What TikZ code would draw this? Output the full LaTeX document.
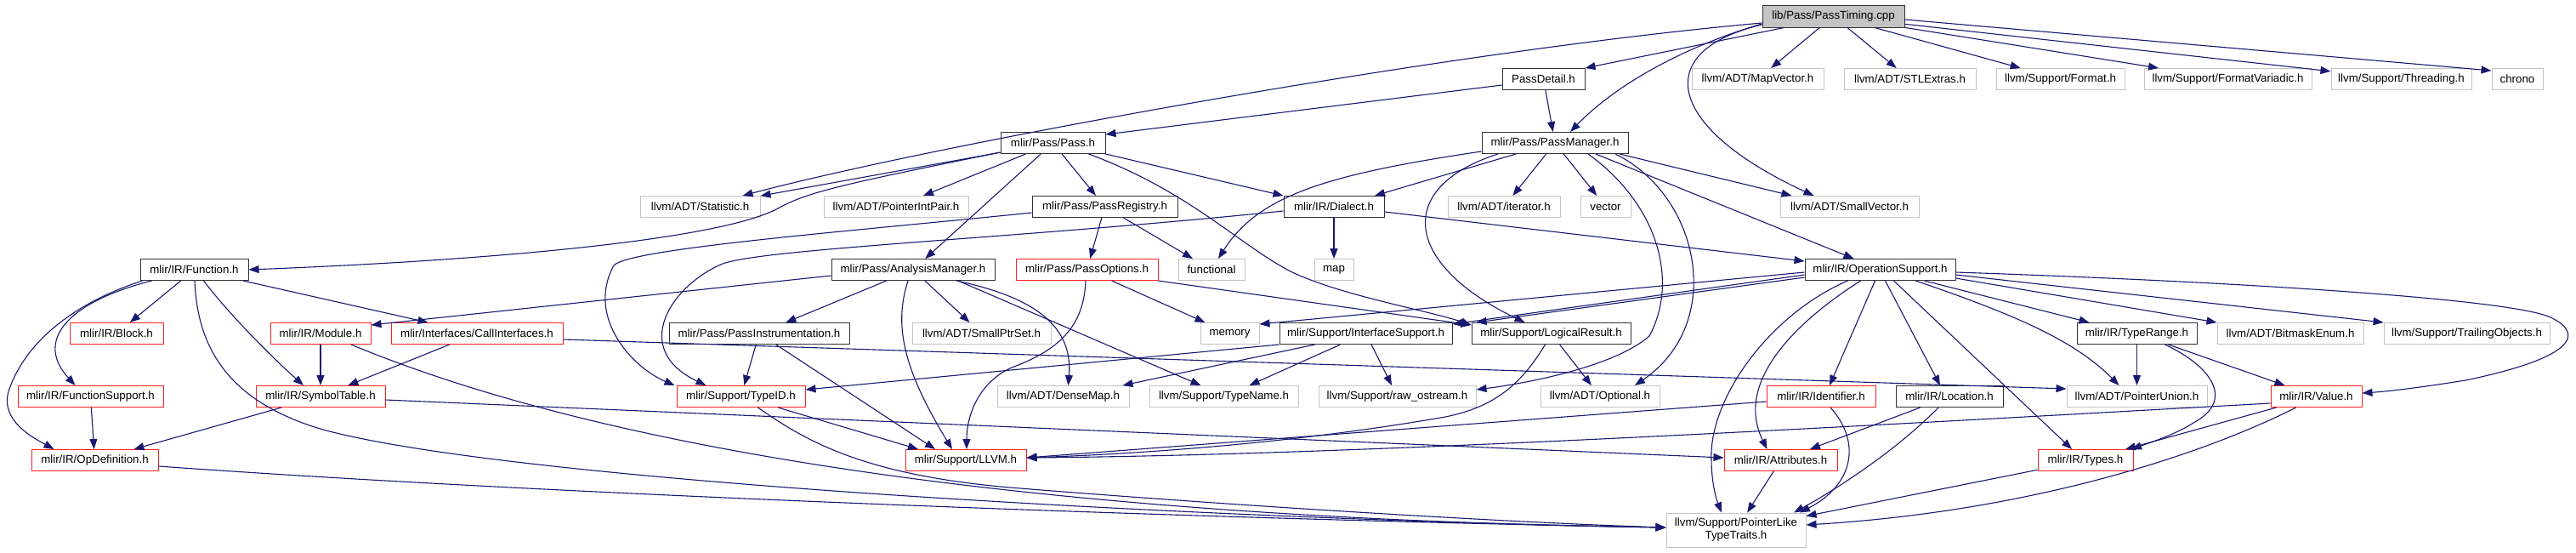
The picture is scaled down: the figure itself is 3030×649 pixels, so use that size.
\documentclass[tikz,border=0pt]{standalone}
\usepackage{fontspec}
\setmainfont{Liberation Sans}
\usetikzlibrary{arrows.meta}
\definecolor{edgecol}{HTML}{191970}
\definecolor{greyb}{HTML}{C4C4C4}
\definecolor{redb}{HTML}{FF2020}
\newcommand{\dxfont}{\fontsize{13.3}{15}\selectfont}
\tikzset{
  nbase/.style={rectangle, inner sep=0pt, minimum height=25, font=\dxfont, line width=1pt, text=black},
  nb/.style={nbase, draw=black!80},
  ng/.style={nbase, draw=greyb},
  nr/.style={nbase, draw=redb},
  e/.style={draw=edgecol, line width=1.1pt, -{Triangle[length=12pt,width=9pt]}}
}
\begin{document}
\begin{tikzpicture}[x=1pt, y=-1pt]
\useasboundingbox[fill=white] (0,0) rectangle (3030,649);
% row 0
\node[nb, fill=greyb, minimum width=167, minimum height=26] (root) at (2156.5,19) {lib/Pass/PassTiming.cpp};
% row 1
\node[nb, minimum width=97] (pd) at (1815.5,93) {PassDetail.h};
\node[ng, minimum width=155] (mv) at (2067.5,93) {llvm/ADT/MapVector.h};
\node[ng, minimum width=155] (stl) at (2246.5,93) {llvm/ADT/STLExtras.h};
\node[ng, minimum width=151] (fmt) at (2423.5,93) {llvm/Support/Format.h};
\node[ng, minimum width=197] (fv) at (2620.5,93) {llvm/Support/FormatVariadic.h};
\node[ng, minimum width=165] (thr) at (2824.5,93) {llvm/Support/Threading.h};
\node[ng, minimum width=60] (chr) at (2961,93) {chrono};
% row 2
\node[nb, minimum width=123] (pass) at (1238.5,168) {mlir/Pass/Pass.h};
\node[nb, minimum width=172] (pm) at (1829,168) {mlir/Pass/PassManager.h};
% row 3
\node[ng, minimum width=141] (stat) at (823.5,243) {llvm/ADT/Statistic.h};
\node[ng, minimum width=170] (pip) at (1054,243) {llvm/ADT/PointerIntPair.h};
\node[nb, minimum width=171] (reg) at (1299.5,243) {mlir/Pass/PassRegistry.h};
\node[nb, minimum width=118] (dia) at (1569,243) {mlir/IR/Dialect.h};
\node[ng, minimum width=132] (iter) at (1769,243) {llvm/ADT/iterator.h};
\node[ng, minimum width=59] (vec) at (1888.5,243) {vector};
\node[ng, minimum width=163] (sv) at (2175.5,243) {llvm/ADT/SmallVector.h};
% row 4
\node[nb, minimum width=127] (fun) at (228.5,317) {mlir/IR/Function.h};
\node[nb, minimum width=192] (am) at (1074,317) {mlir/Pass/AnalysisManager.h};
\node[nr, minimum width=167] (po) at (1278.5,317) {mlir/Pass/PassOptions.h};
\node[ng, minimum width=78] (fnl) at (1425,317) {functional};
\node[ng, minimum width=46] (nmap) at (1569,317) {map};
\node[nb, minimum width=177] (os) at (2211.5,317) {mlir/IR/OperationSupport.h};
% row 5
\node[nr, minimum width=110] (blk) at (137,392) {mlir/IR/Block.h};
\node[nr, minimum width=118] (mod) at (377,392) {mlir/IR/Module.h};
\node[nr, minimum width=202] (ci) at (561,392) {mlir/Interfaces/CallInterfaces.h};
\node[nb, minimum width=212] (pinst) at (893,392) {mlir/Pass/PassInstrumentation.h};
\node[ng, minimum width=163] (spt) at (1154.5,392) {llvm/ADT/SmallPtrSet.h};
\node[ng, minimum width=69] (mem) at (1446.5,392) {memory};
\node[nb, minimum width=203] (is) at (1606.5,392) {mlir/Support/InterfaceSupport.h};
\node[nb, minimum width=187] (lr) at (1824.5,392) {mlir/Support/LogicalResult.h};
\node[nb, minimum width=141] (tr) at (2513.5,392) {mlir/IR/TypeRange.h};
\node[ng, minimum width=172] (bm) at (2694,392) {llvm/ADT/BitmaskEnum.h};
\node[ng, minimum width=195] (tobj) at (2901.5,392) {llvm/Support/TrailingObjects.h};
% row 6
\node[nr, minimum width=171] (fs) at (106.5,466) {mlir/IR/FunctionSupport.h};
\node[nr, minimum width=152] (st) at (377,466) {mlir/IR/SymbolTable.h};
\node[nr, minimum width=151] (tid) at (871.5,466) {mlir/Support/TypeID.h};
\node[ng, minimum width=155] (dm) at (1250.5,466) {llvm/ADT/DenseMap.h};
\node[ng, minimum width=175] (tn) at (1439.5,466) {llvm/Support/TypeName.h};
\node[ng, minimum width=185] (ro) at (1643.5,466) {llvm/Support/raw\_ostream.h};
\node[ng, minimum width=140] (opt) at (1882,466) {llvm/ADT/Optional.h};
\node[nr, minimum width=128] (id) at (2142,466) {mlir/IR/Identifier.h};
\node[nb, minimum width=126] (loc) at (2293,466) {mlir/IR/Location.h};
\node[ng, minimum width=165] (pu) at (2513.5,466) {llvm/ADT/PointerUnion.h};
\node[nr, minimum width=107] (val) at (2724.5,466) {mlir/IR/Value.h};
% row 7
\node[nr, minimum width=149] (opd) at (111.5,541) {mlir/IR/OpDefinition.h};
\node[nr, minimum width=142] (llvm) at (1136,541) {mlir/Support/LLVM.h};
\node[nr, minimum width=133] (attr) at (2094.5,541) {mlir/IR/Attributes.h};
\node[nr, minimum width=112] (types) at (2453,541) {mlir/IR/Types.h};
% row 8
\node[ng, minimum width=164, minimum height=40, align=center] (plt) at (2042,623) {llvm/Support/PointerLike\\TypeTraits.h};

% ---- edges from root
\draw[e] ([yshift=-8]root.west) .. controls (1700,60) and (1100,170) .. ([xshift=50]stat.north);
\draw[e] ([xshift=-58]root.south) -- (pd.north east);
\draw[e] ([yshift=-9]root.west) .. controls (1980,55) and (1900,100) .. ([xshift=18]pm.north);
\draw[e] ([yshift=-10]root.west) .. controls (1940,60) and (1960,150) .. ([xshift=-42]sv.north);
\draw[e] (root) -- (mv);
\draw[e] (root) -- (stl);
\draw[e] (root) -- (fmt);
\draw[e] (root) -- (fv);
\draw[e] (root) -- (thr);
\draw[e] ([yshift=-4]root.east) -- ([yshift=10]chr.west);
% PassDetail
\draw[e] ([yshift=-7]pd.west) -- ([yshift=10]pass.east);
\draw[e] (pd) -- (pm);
% Pass
\draw[e] (pass) -- (stat);
\draw[e] ([yshift=-11]pass.west) .. controls (1000,215) and (950,225) .. (915,245) .. controls (850,280) and (600,305) .. (fun.east);
\draw[e] (pass) -- (pip);
\draw[e] (pass) -- (am);
\draw[e] (pass) -- (reg);
\draw[e] (pass.south east) -- (dia.north west);
\draw[e] ([xshift=42]pass.south) .. controls (1400,225) and (1460,290) .. (1520,320) .. controls (1580,348) and (1680,365) .. ([yshift=-3]lr.north west);
% PassManager
\draw[e] ([yshift=-10]pm.west) .. controls (1560,205) and (1480,230) .. ([xshift=8]fnl.north);
\draw[e] ([xshift=-67]pm.south) .. controls (1640,220) and (1650,310) .. ([xshift=-31]lr.north);
\draw[e] ([xshift=-46]pm.south) -- ([xshift=48]dia.north);
\draw[e] (pm) -- (iter);
\draw[e] (pm) -- (vec);
\draw[e] ([xshift=39]pm.south) .. controls (1950,240) and (1975,330) .. (1940,395) .. controls (1900,430) and (1800,450) .. ([yshift=8]ro.east);
\draw[e] ([xshift=48]pm.south) -- ([xshift=-31]os.north);
\draw[e] ([xshift=71]pm.south) .. controls (2000,230) and (2030,380) .. ([xshift=41]opt.north);
\draw[e] ([xshift=76]pm.south) -- ([xshift=-68]sv.north);
% PassRegistry
\draw[e] (reg) -- (po);
\draw[e] (reg) -- (fnl);
\draw[e] ([yshift=-7]reg.west) .. controls (1000,272) and (740,292) .. (722,312) .. controls (690,370) and (740,430) .. ([xshift=-78]tid.north);
% Dialect
\draw[e] (dia) -- (nmap);
\draw[e] ([yshift=-6]dia.east) -- ([yshift=10]os.west);
\draw[e] ([yshift=-5]dia.west) .. controls (1200,280) and (900,292) .. (850,310) .. controls (790,335) and (740,410) .. ([xshift=-41]tid.north);
% PassOptions
\draw[e] (po) -- (mem);
\draw[e] (po.south east) -- ([yshift=-3]lr.north west);
\draw[e] ([xshift=-1.5]po.south) .. controls (1275,380) and (1250,410) .. (1190,432) .. controls (1150,450) and (1137,490) .. ([xshift=1]llvm.north);
% AnalysisManager
\draw[e] (am) -- (pinst);
\draw[e] (am) -- (spt);
\draw[e] ([yshift=-7]am.west) -- ([yshift=10]mod.east);
\draw[e] ([xshift=-6]am.south) .. controls (1052,380) and (1060,430) .. ([xshift=-16]llvm.north);
\draw[e] ([xshift=51]am.south) .. controls (1220,350) and (1262,385) .. ([xshift=6]dm.north);
\draw[e] ([xshift=53]am.south) -- ([xshift=-27]tn.north);
% Function
\draw[e] (fun) -- (blk);
\draw[e] ([xshift=-61]fun.south) .. controls (90,355) and (30,400) .. (10,460) .. controls (0,495) and (40,515) .. ([xshift=-48]opd.north);
\draw[e] ([xshift=-50]fun.south) .. controls (80,355) and (40,400) .. ([xshift=-18]fs.north);
\draw[e] ([xshift=11]fun.south) .. controls (270,370) and (320,420) .. ([xshift=-20]st.north);
\draw[e] (fun) -- (ci);
\draw[e] ([xshift=0.5]fun.south) .. controls (232,400) and (260,470) .. (380,505) .. controls (600,565) and (1400,610) .. ([yshift=3]plt.west);
% Module, CallInterfaces, SymbolTable, FunctionSupport, OpDefinition
\draw[e] (mod) -- (st);
\draw[e] ([xshift=36]mod.south) .. controls (750,545) and (1300,610) .. ([yshift=3]plt.west);
\draw[e] (ci) -- (st);
\draw[e] ([yshift=-7]ci.east) -- ([yshift=9]pu.west);
\draw[e] (st) -- (opd);
\draw[e] ([yshift=-4]st.east) -- ([yshift=3]attr.west);
\draw[e] (fs) -- (opd);
\draw[e] ([yshift=-7]opd.east) .. controls (700,585) and (1500,612) .. ([yshift=3]plt.west);
% PassInstrumentation, TypeID
\draw[e] (pinst) -- (tid);
\draw[e] (pinst) -- ([xshift=-36]llvm.north);
\draw[e] (tid) -- ([xshift=-56]llvm.north);
\draw[e] ([xshift=20]tid.south) .. controls (950,520) and (1020,560) .. (1200,574) .. controls (1500,598) and (1800,615) .. ([yshift=3]plt.west);
% InterfaceSupport
\draw[e] (is.south west) -- ([yshift=8]tid.east);
\draw[e] ([xshift=-60]is.south) -- ([xshift=70]dm.north);
\draw[e] ([xshift=-30]is.south) -- ([xshift=30]tn.north);
\draw[e] (is) -- (ro);
% LogicalResult
\draw[e] (lr) -- (opt);
\draw[e] ([xshift=-7]lr.south) .. controls (1790,450) and (1760,478) .. (1700,490) .. controls (1500,525) and (1300,535) .. ([yshift=3]llvm.east);
% OperationSupport
\draw[e] ([yshift=-3]os.west) -- ([yshift=-2]mem.north east);
\draw[e] ([yshift=-6]os.west) -- ([yshift=-2]is.north east);
\draw[e] ([yshift=-9]os.west) -- ([xshift=6]lr.north west);
\draw[e] ([xshift=-38]os.south) .. controls (2080,370) and (2010,470) .. (2013,540) .. controls (2013,570) and (2020,590) .. ([xshift=-17]plt.north);
\draw[e] ([xshift=-23]os.south) .. controls (2110,380) and (2040,450) .. ([xshift=-16]attr.north);
\draw[e] ([xshift=-6]os.south) -- ([xshift=10]id.north);
\draw[e] ([xshift=6]os.south) -- ([xshift=-11]loc.north);
\draw[e] ([xshift=16]os.south) -- ([xshift=-16]types.north);
\draw[e] ([xshift=42]os.south) .. controls (2370,370) and (2440,400) .. ([xshift=-21]pu.north);
\draw[e] ([xshift=52]os.south) -- ([xshift=-56]tr.north);
\draw[e] ([yshift=-10]os.east) -- (bm.north west);
\draw[e] ([yshift=-6]os.east) -- (tobj.north west);
\draw[e] ([yshift=-3]os.east) .. controls (2600,330) and (2950,350) .. (3000,373) .. controls (3040,392) and (3030,420) .. (2900,447) .. controls (2850,455) and (2810,460) .. ([yshift=4]val.east);
% TypeRange
\draw[e] (tr) -- (pu);
\draw[e] (tr) -- (val);
\draw[e] ([xshift=33]tr.south) .. controls (2600,430) and (2630,470) .. (2580,497) .. controls (2560,510) and (2530,520) .. ([xshift=54]types.north);
% Identifier, Location
\draw[e] ([yshift=-6]id.west) -- ([yshift=3]llvm.east);
\draw[e] ([xshift=11]id.south) .. controls (2190,520) and (2180,570) .. ([xshift=75]plt.north);
\draw[e] (loc) -- (attr);
\draw[e] ([xshift=-13]loc.south) .. controls (2230,530) and (2160,575) .. ([xshift=68]plt.north);
% Value
\draw[e] ([yshift=-8]val.west) .. controls (2200,500) and (1600,535) .. ([yshift=3]llvm.east);
\draw[e] (val) -- (types);
\draw[e] ([xshift=-24]val.south) .. controls (2600,530) and (2400,600) .. ([yshift=6]plt.east);
% Attributes, Types
\draw[e] (attr) -- (plt);
\draw[e] (types) -- (plt);
\end{tikzpicture}
\end{document}
